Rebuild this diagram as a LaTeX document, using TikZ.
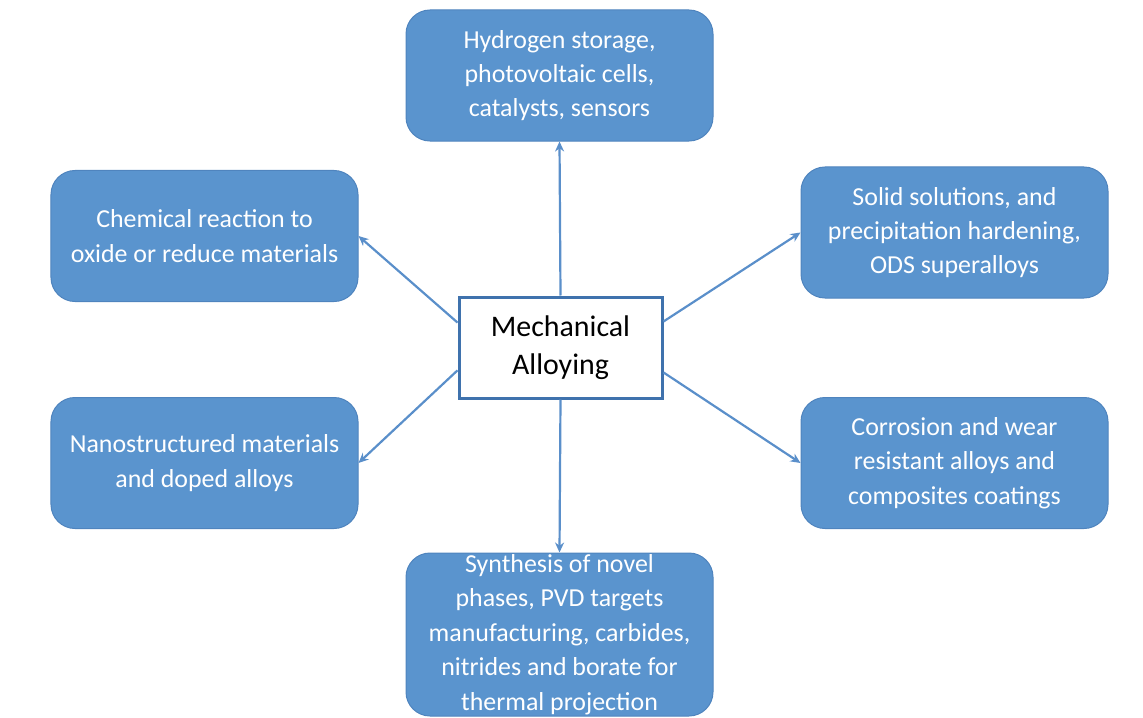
\documentclass[tikz,border=0pt]{standalone}
\usepackage{fontspec}
\setmainfont{Carlito}
\usetikzlibrary{calc,arrows.meta}
\definecolor{boxfill}{HTML}{5A94CE}
\definecolor{boxline}{HTML}{4F84BE}
\definecolor{cline}{HTML}{3F72AD}
\definecolor{arr}{HTML}{5A8FCA}
\tikzset{
  appbox/.style={draw=boxline, line width=1bp, fill=boxfill, rounded corners=24bp,
    minimum width=307bp, minimum height=131bp, align=center, text=white,
    font=\fontsize{26}{34.5}\selectfont, inner sep=0pt},
  centerbox/.style={draw=cline, line width=3bp, fill=white, minimum width=203bp,
    minimum height=101bp, align=center, text=black,
    font=\fontsize{30}{38}\selectfont, inner sep=0pt},
  conn/.style={draw=arr, line width=2.2bp, -{Stealth[length=10bp,width=9bp]}}
}
\begin{document}
\begin{tikzpicture}[x=1bp,y=-1bp]
\useasboundingbox (0,0) rectangle (1143,718);
\node[centerbox] (c) at (560.5,347.5) {Mechanical\\Alloying};
\node[appbox] (t) at (559.5,75.5) {Hydrogen storage,\\photovoltaic cells,\\catalysts, sensors};
\node[appbox] (lt) at (204.5,236) {Chemical reaction to\\oxide or reduce materials};
\node[appbox] (rt) at (954.5,232.5) {Solid solutions, and\\precipitation hardening,\\ODS superalloys};
\node[appbox] (lb) at (204.5,463) {Nanostructured materials\\and doped alloys};
\node[appbox] (rb) at (954.5,463) {Corrosion and wear\\resistant alloys and\\composites coatings};
\node[appbox, minimum height=163bp] (b) at (559.5,634.5) {Synthesis of novel\\phases, PVD targets\\manufacturing, carbides,\\nitrides and borate for\\thermal projection};
\coordinate (clt) at ($(c.north west)!0.26!(c.south west)$);
\coordinate (clb) at ($(c.north west)!0.72!(c.south west)$);
\coordinate (crt) at ($(c.north east)!0.25!(c.south east)$);
\coordinate (crb) at ($(c.north east)!0.74!(c.south east)$);
\draw[conn] (c.north) -- (t.south);
\draw[conn] (c.south) -- (b.north);
\draw[conn] (clt) -- (lt.east);
\draw[conn] (clb) -- (lb.east);
\draw[conn] (crt) -- (rt.west);
\draw[conn] (crb) -- (rb.west);
\end{tikzpicture}
\end{document}
